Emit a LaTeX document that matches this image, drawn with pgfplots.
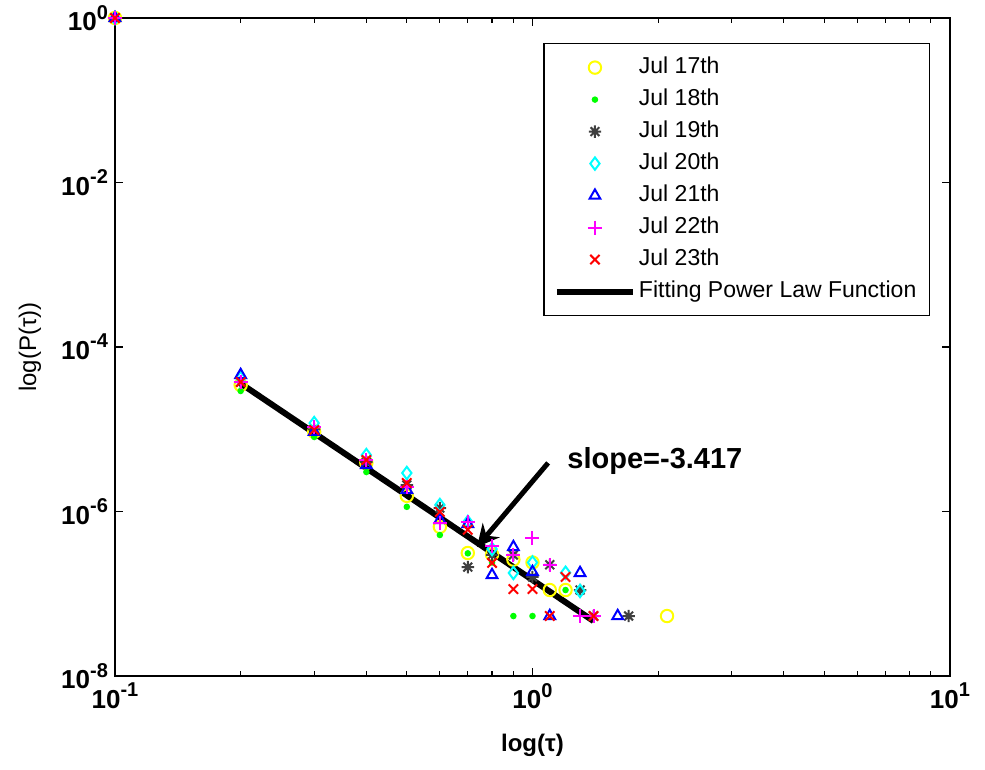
\documentclass[border=0pt]{standalone}
\usepackage{fontspec}
\setmainfont{Liberation Sans}
\usepackage{pgfplots}
\pgfplotsset{compat=1.18}
\usetikzlibrary{arrows.meta}
\definecolor{myellow}{rgb}{1,1,0}
\definecolor{mgreen}{rgb}{0,1,0}
\definecolor{mcyan}{rgb}{0,1,1}
\definecolor{mblue}{rgb}{0,0,1}
\definecolor{mmag}{rgb}{1,0,1}
\definecolor{mred}{rgb}{1,0,0}
\definecolor{mgray}{rgb}{0.25,0.25,0.25}
\newcommand{\tl}[1]{\textbf{10}\raisebox{0.45em}{\fontsize{10}{10}\selectfont\textbf{#1}}}
\pgfdeclareplotmark{ast8}{%
 \pgfpathmoveto{\pgfqpoint{-\pgfplotmarksize}{0pt}}\pgfpathlineto{\pgfqpoint{\pgfplotmarksize}{0pt}}%
 \pgfpathmoveto{\pgfqpoint{0pt}{-\pgfplotmarksize}}\pgfpathlineto{\pgfqpoint{0pt}{\pgfplotmarksize}}%
 \pgfpathmoveto{\pgfqpoint{-0.707\pgfplotmarksize}{-0.707\pgfplotmarksize}}\pgfpathlineto{\pgfqpoint{0.707\pgfplotmarksize}{0.707\pgfplotmarksize}}%
 \pgfpathmoveto{\pgfqpoint{-0.707\pgfplotmarksize}{0.707\pgfplotmarksize}}\pgfpathlineto{\pgfqpoint{0.707\pgfplotmarksize}{-0.707\pgfplotmarksize}}%
 \pgfusepathqstroke}
\pgfplotsset{
  wide legend/.style={legend image code/.code={\draw[mark repeat=2,mark phase=2,##1] plot coordinates {(0pt,0pt)(19pt,0pt)(38pt,0pt)};}},
  mk/.style={only marks, line width=1pt, mark size=3.1pt, wide legend},
}
\begin{document}
\begin{tikzpicture}
\begin{axis}[
  xmode=log, ymode=log,
  scale only axis, width=417.5pt, height=329pt,
  xmin=0.1, xmax=10, ymin=1e-8, ymax=1,
  clip=false,
  xtick={0.1,1,10}, xticklabels={\tl{-1},\tl{0},\tl{1}},
  minor xtick={0.2,0.3,0.4,0.5,0.6,0.7,0.8,0.9,2,3,4,5,6,7,8,9},
  ytick={1e-8,1e-6,1e-4,1e-2,1}, yticklabels={\tl{-8},\tl{-6},\tl{-4},\tl{-2},\tl{0}},
  minor y tick style={draw=none},
  tick align=inside, major tick length=4pt, minor tick length=2.5pt,
  axis line style={line width=0.8pt},
  every tick/.style={black, line width=0.6pt},
  ticklabel style={font=\fontsize{13}{13}\selectfont},
  xlabel={\textbf{log(τ)}}, ylabel={log(P(τ))},
  label style={font=\fontsize{12}{14}\selectfont},
  xlabel style={at={([yshift=-34.5pt]rel axis cs:0.5,0)}, anchor=center},
  ylabel style={at={([xshift=-42.5pt]rel axis cs:0,0.5)}, anchor=center},
  legend style={at={(0.976,0.962)}, anchor=north east, draw=black, line width=0.6pt,
    font=\fontsize{11.5}{13}\selectfont, inner xsep=5pt, inner ysep=5pt, row sep=2pt,
    nodes={inner sep=1.5pt, text height=8.5pt, text depth=2.5pt}},
  legend cell align=left,
]
\addplot[mk, mark=o, color=myellow] coordinates {(0.1,1)(0.2,3.45e-5)(0.3,9.3e-6)(0.4,3.9e-6)(0.5,1.55e-6)(0.6,6.5e-7)(0.7,3.13e-7)(0.8,3.0e-7)(0.9,2.6e-7)(1.0,2.4e-7)(1.1,1.11e-7)(1.2,1.11e-7)(2.1,5.36e-8)};
\addlegendentry{Jul 17th}
\addplot[mk, mark=*, mark size=1.1pt, color=mgreen] coordinates {(0.1,1)(0.2,2.92e-5)(0.3,8.05e-6)(0.4,3.02e-6)(0.5,1.14e-6)(0.6,5.18e-7)(0.7,3.1e-7)(0.8,2.4e-7)(0.9,5.36e-8)(1.0,5.36e-8)(1.2,1.11e-7)};
\addlegendentry{Jul 18th}
\addplot[mk, mark=ast8, color=mgray] coordinates {(0.1,1)(0.2,3.75e-5)(0.3,1.0e-5)(0.4,4.0e-6)(0.5,2.1e-6)(0.6,1.1e-6)(0.7,2.11e-7)(0.8,2.96e-7)(0.9,2.96e-7)(1.0,1.6e-7)(1.1,2.25e-7)(1.3,1.11e-7)(1.4,5.36e-8)(1.7,5.36e-8)};
\addlegendentry{Jul 19th}
\addplot[mk, mark=diamond, color=mcyan] coordinates {(0.1,1)(0.2,4.2e-5)(0.3,1.19e-5)(0.4,4.86e-6)(0.5,2.94e-6)(0.6,1.2e-6)(0.7,7.45e-7)(0.8,3.5e-7)(0.9,1.79e-7)(1.0,2.4e-7)(1.2,1.8e-7)(1.3,1.08e-7)};
\addlegendentry{Jul 20th}
\addplot[mk, mark=triangle, color=mblue] coordinates {(0.1,1)(0.2,4.57e-5)(0.3,9.3e-6)(0.4,3.67e-6)(0.5,1.83e-6)(0.6,7.9e-7)(0.7,7.05e-7)(0.8,1.69e-7)(0.9,3.7e-7)(1.0,1.84e-7)(1.1,5.36e-8)(1.3,1.79e-7)(1.6,5.36e-8)};
\addlegendentry{Jul 21th}
\addplot[mk, mark=+, mark size=3.5pt, color=mmag] coordinates {(0.1,1)(0.2,3.75e-5)(0.3,1.06e-5)(0.4,4.23e-6)(0.5,1.99e-6)(0.6,7.25e-7)(0.7,7.45e-7)(0.8,3.81e-7)(0.9,2.96e-7)(1.0,4.76e-7)(1.1,2.25e-7)(1.3,5.36e-8)(1.4,5.36e-8)};
\addlegendentry{Jul 22th}
\addplot[mk, mark=x, mark size=3.3pt, color=mred] coordinates {(0.1,1)(0.2,3.75e-5)(0.3,9.8e-6)(0.4,4.23e-6)(0.5,2.22e-6)(0.6,9.9e-7)(0.7,6.0e-7)(0.8,2.37e-7)(0.9,1.14e-7)(1.0,1.14e-7)(1.1,5.36e-8)(1.2,1.6e-7)(1.4,5.36e-8)};
\addlegendentry{Jul 23th}
\addplot[black, line width=3pt, wide legend] coordinates {(0.2,3.6e-5)(1.4,4.66e-8)};
\addlegendentry{Fitting Power Law Function}
\draw[line width=2.5pt, -{Stealth[length=11pt,width=11pt]}] (axis cs:1.09,3.9e-6) -- (axis cs:0.736,3.7e-7);
\node[anchor=base west, font=\fontsize{14.5}{16}\selectfont\bfseries, inner sep=0pt] at (axis cs:1.21,3.3e-6) {slope=-3.417};
\coordinate (bbsw) at ([xshift=-57.5pt,yshift=-47pt]rel axis cs:0,0);
\coordinate (bbne) at ([xshift=17.5pt,yshift=9pt]rel axis cs:1,1);
\end{axis}
\pgfresetboundingbox
\path[use as bounding box] (bbsw) rectangle (bbne);
\end{tikzpicture}
\end{document}
